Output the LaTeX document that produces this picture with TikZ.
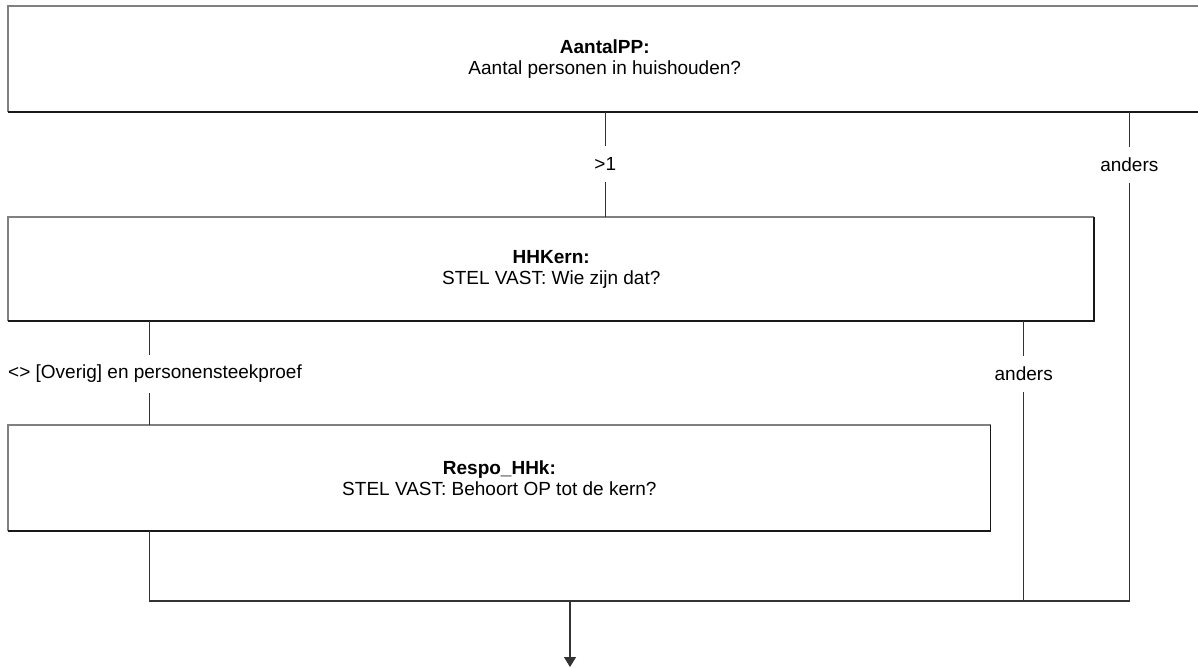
\documentclass[tikz,border=0pt]{standalone}
\usepackage{fontspec}
\setmainfont{Liberation Sans}
\usetikzlibrary{arrows.meta}
\begin{document}
\begin{tikzpicture}[x=1pt,y=-1pt,
  txt/.style={font=\fontsize{19}{21}\selectfont},
  qbox/.style={txt,align=center,inner sep=0pt,draw=none},
  lbl/.style={txt,inner xsep=0pt,inner ysep=0pt,minimum height=36pt},
  conn/.style={line width=1.3pt,draw=black!80},
  edgelight/.style={line width=1.7pt,draw=black!50},
  edgedark/.style={line width=1.7pt,draw=black!90}]
\clip (0,0) rectangle (1198,668);
\fill[white] (0,0) rectangle (1198,668);
% boxes
\node[qbox,minimum width=1192.5pt,minimum height=105.5pt] (b1) at (604.75,59.25)
  {\textbf{AantalPP:}\\Aantal personen in huishouden?};
\node[qbox,minimum width=1085.5pt,minimum height=104pt] (b2) at (551.25,269)
  {\textbf{HHKern:}\\STEL VAST: Wie zijn dat?};
\node[qbox,minimum width=981.8pt,minimum height=105.7pt] (b3) at (499.4,478.15)
  {\textbf{Respo\_HHk:}\\STEL VAST: Behoort OP tot de kern?};
\foreach \b in {b1,b2,b3}{
  \draw[edgelight] (\b.south west) -- (\b.north west) -- (\b.north east);
  \draw[edgedark] (\b.north east) -- (\b.south east) -- (\b.south west);
}
% labels
\node[lbl] (gt) at (605.3,164) {>1};
\node[lbl] (an1) at (1129.3,165) {anders};
\node[lbl] (an2) at (1023.7,374) {anders};
\node[lbl,minimum height=38pt,anchor=west] (ov) at (8,374) {<> [Overig] en personensteekproef};
% helper coordinates
\coordinate (xl) at (149.3,0);
\coordinate (bot) at (0,601);
\coordinate (xa) at (570,0);
\coordinate (endp) at (570,667);
% connectors
\draw[conn] (gt |- b1.south) -- (gt.north);
\draw[conn] (gt.south) -- (gt |- b2.north);
\draw[conn] (xl |- b2.south) -- (xl |- ov.north);
\draw[conn] (xl |- ov.south) -- (xl |- b3.north);
\draw[conn] (an1 |- b1.south) -- (an1.north);
\draw[conn] (an2 |- b2.south) -- (an2.north);
\draw[conn] (xl |- b3.south) -- (xl |- bot) -- (an1 |- bot) -- (an1.south);
\draw[conn] (an2.south) -- (an2 |- bot);
\draw[conn,-{Triangle[length=10pt,width=12pt]}] (xa |- bot) -- (endp);
\end{tikzpicture}
\end{document}
